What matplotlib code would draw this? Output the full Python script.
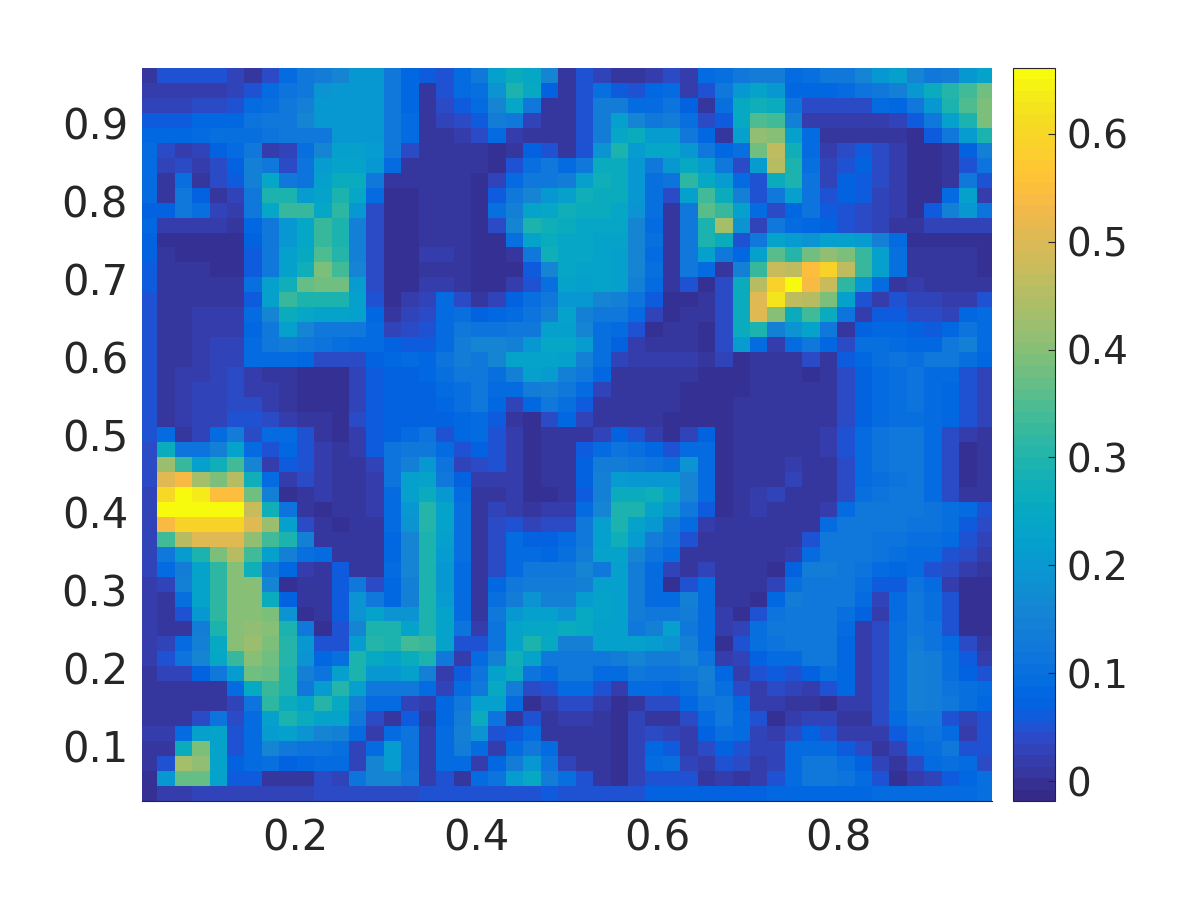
import numpy as np
import matplotlib
matplotlib.use('Agg')
import matplotlib.pyplot as plt
from matplotlib.colors import ListedColormap

# Heat values, in hundredths, top row first
heat_rows = [
    [1,5,5,5,5,3,1,4,9,12,14,16,20,20,13,8,6,5,9,12,22,26,24,16, 1,5,3,1,1,2,4,2,9,10,12,14,14,9,10,12,13,16,20,22,16,12,14,20,23],
    [2,2,2,2,2,3,5,9,11,13,19,20,20,20,13,8,1,5,9,10,19,30,25,7, 1,5,10,6,5,8,9,2,5,13,20,23,20,8,8,8,9,11,13,15,20,26,31,34,38],
    [3,3,3,4,4,5,9,10,13,15,20,20,20,20,13,8,1,4,6,9,16,24,13,1, 1,5,14,14,9,9,11,7,1,10,25,27,26,11,4,4,4,4,9,8,12,20,30,35,39],
    [6,6,6,8,8,8,11,12,13,16,20,20,20,20,13,9,1,3,4,6,14,13,3,1, 1,5,14,22,16,13,14,10,4,6,25,35,34,15,2,2,2,2,2,3,6,13,22,30,39],
    [8,8,8,9,10,10,10,11,12,13,13,20,20,20,13,9,1,1,2,4,9,2,1,1, 1,5,14,24,26,21,21,13,8,1,22,41,40,22,9,1,1,1,1,1,0,6,13,21,29],
    [9,4,2,3,7,9,13,2,3,10,16,22,22,21,13,4,1,1,1,1,0,1,7,5, 1,5,19,30,21,24,24,20,13,8,10,38,46,27,9,2,4,6,4,2,0,0,1,7,15],
    [9,3,4,2,4,7,15,12,4,11,21,23,23,20,9,1,1,1,1,1,0,5,10,12, 9,13,26,26,20,13,20,25,21,13,4,21,45,30,10,3,5,7,4,2,0,0,1,5,11],
    [9,1,10,1,4,6,15,24,13,11,22,26,26,13,1,1,1,1,1,0,3,9,13,13, 14,22,27,26,20,10,11,32,25,21,9,5,26,30,11,3,7,6,4,2,0,0,1,13,5],
    [9,1,13,7,1,3,13,29,29,21,23,30,24,9,0,0,1,1,1,0,6,12,16,20, 22,27,26,26,20,10,4,22,34,26,15,5,12,22,11,5,7,6,3,2,0,0,9,22,2],
    [7,7,12,10,3,2,12,24,33,33,24,32,20,4,0,0,1,1,1,0,10,15,23,24, 27,26,26,24,19,10,1,13,36,33,22,9,4,8,11,6,5,4,3,2,0,6,15,20,11],
    [8,2,2,2,2,1,8,13,20,24,33,30,15,4,0,0,1,1,1,0,4,16,29,27, 26,24,24,24,16,9,1,13,30,43,19,3,13,9,8,7,5,4,3,1,1,3,3,3,3],
    [7,0,0,0,0,0,7,13,20,24,33,30,15,4,0,0,1,1,1,0,0,10,23,26, 24,24,23,23,16,10,1,13,30,26,5,12,23,21,19,22,22,21,15,9,0,0,0,0,0],
    [7,1,0,0,0,0,6,13,22,25,35,31,15,4,0,0,2,2,1,0,0,1,12,27, 24,24,23,22,16,9,1,13,22,13,8,22,36,31,38,41,39,33,22,10,1,1,1,1,0],
    [6,1,1,1,0,0,6,13,22,27,39,34,16,4,0,0,1,1,1,0,0,0,6,16, 24,23,23,22,16,10,1,13,9,1,15,33,48,46,55,59,46,33,22,10,1,1,1,1,0],
    [6,1,1,1,1,1,10,22,27,37,38,38,21,4,0,0,2,2,1,0,0,2,5,10, 23,22,23,22,15,9,1,5,0,4,26,45,59,66,54,48,32,20,9,1,2,1,1,1,1],
    [5,1,1,1,1,1,6,22,33,30,29,29,22,5,0,2,3,9,4,1,3,7,10,13, 20,20,16,15,11,6,0,0,1,4,26,51,62,46,45,39,22,5,2,5,3,3,2,2,5],
    [5,1,1,2,2,2,9,16,26,24,23,23,22,8,1,3,4,9,10,7,8,9,11,15, 23,15,12,12,9,3,0,1,1,4,26,51,40,26,34,26,11,2,6,6,4,4,3,8,9],
    [5,1,1,2,2,2,8,12,22,16,13,12,13,9,3,4,5,9,12,11,11,12,13,22, 22,16,10,9,5,0,1,1,0,4,26,30,15,19,23,13,1,7,8,8,7,6,8,11,9],
    [5,1,1,2,3,3,9,13,14,12,11,10,9,9,7,6,6,9,14,16,16,15,20,24, 24,21,10,7,2,1,1,1,0,4,21,9,2,9,13,8,4,10,10,9,8,8,13,15,9],
    [5,1,1,2,3,3,9,9,9,8,4,4,4,7,8,9,8,11,14,13,16,23,23,23, 22,15,10,3,2,2,2,2,1,3,0,1,1,1,4,1,6,8,10,11,10,12,13,10,8],
    [5,1,2,2,3,4,2,1,1,0,0,0,3,6,7,7,8,10,12,13,10,15,22,21, 15,12,8,1,1,1,1,1,0,0,0,1,1,1,0,1,4,7,9,10,11,9,9,5,3],
    [5,1,2,3,3,4,2,2,1,0,0,0,3,6,7,7,7,9,10,13,9,9,14,15, 13,9,3,1,1,1,1,0,0,0,0,1,1,1,1,1,4,7,9,10,11,9,8,5,3],
    [5,1,2,3,3,4,4,2,1,0,0,0,3,6,7,7,7,8,10,12,8,3,8,12, 10,6,1,1,1,1,1,0,0,0,1,1,1,1,1,1,4,7,9,10,11,9,8,5,3],
    [5,1,2,3,3,5,5,4,2,1,1,0,4,6,7,7,7,7,8,9,6,1,0,4, 8,3,1,1,1,1,0,0,0,0,1,1,1,1,1,1,4,7,9,10,10,9,8,5,3],
    [5,9,1,3,9,14,4,9,9,5,1,0,2,6,7,9,11,5,8,9,5,2,0,1, 1,1,3,7,5,2,0,3,7,0,1,1,1,1,1,2,5,9,11,12,12,9,4,2,1],
    [4,26,11,11,15,23,9,5,8,5,2,1,2,6,11,12,13,9,5,7,5,2,0,1, 1,6,9,11,10,8,5,9,9,0,1,1,1,1,1,2,5,9,11,12,12,9,4,0,1],
    [4,42,33,22,27,34,16,2,6,5,2,1,1,3,11,15,20,11,3,4,5,2,0,1, 1,7,14,14,13,11,10,19,9,0,1,1,1,2,1,1,4,9,11,12,12,9,4,0,1],
    [4,51,54,43,39,45,27,9,2,4,2,1,1,2,11,22,23,13,7,2,2,2,0,1, 1,7,15,21,20,20,20,16,9,0,1,1,1,3,1,1,4,9,10,11,12,9,4,0,1],
    [3,60,66,63,55,55,38,15,0,1,2,1,1,2,9,22,26,20,9,1,1,2,0,0, 1,6,15,26,26,27,23,16,9,0,1,2,3,1,1,1,4,10,11,12,12,9,4,1,1],
    [3,66,66,66,66,66,48,27,11,1,0,1,1,2,9,20,31,23,10,1,3,2,1,2, 2,9,16,30,30,23,19,12,6,0,1,2,1,1,1,2,9,12,12,12,12,11,10,9,5],
    [3,54,59,59,59,59,51,42,22,4,1,0,1,1,9,19,31,23,10,1,4,5,3,4, 4,12,22,30,23,20,13,9,2,1,1,1,1,1,1,9,13,13,13,12,11,11,10,6,4],
    [3,34,45,51,51,51,41,34,30,15,1,1,1,1,8,16,30,22,10,1,4,9,7,7, 9,13,22,27,21,14,11,5,1,1,1,1,1,1,5,12,13,13,11,11,10,10,9,5,3],
    [3,13,21,29,39,45,34,22,15,10,9,1,1,1,8,16,30,21,10,1,4,9,9,8, 10,14,23,23,16,11,9,1,1,1,1,1,1,2,9,13,13,13,11,10,9,9,5,4,2],
    [3,9,14,23,32,40,27,12,8,2,1,6,1,1,9,16,30,20,9,1,4,9,12,12, 12,16,13,22,14,9,3,1,3,1,1,1,0,7,14,14,13,11,9,8,9,5,4,2,1],
    [2,3,15,23,32,40,40,16,0,1,1,6,12,4,8,15,29,20,9,1,8,12,14,14, 14,15,22,22,14,9,0,5,9,1,1,1,3,10,13,13,12,10,6,6,11,9,2,0,0],
    [2,1,10,23,32,40,40,26,7,1,1,6,19,13,8,15,30,21,9,1,10,14,19,15, 15,21,23,22,14,9,9,15,9,1,1,0,8,14,13,13,12,9,3,9,13,10,5,0,0],
    [2,1,5,20,32,40,40,39,19,0,1,6,19,23,19,19,30,23,9,1,12,20,22,22, 19,25,23,22,14,13,13,14,9,2,0,5,11,12,12,12,10,7,2,9,12,10,5,0,0],
    [2,1,1,14,29,40,41,40,30,12,0,5,16,30,30,23,30,23,11,2,11,23,24,24, 26,25,22,22,13,15,22,13,9,2,3,10,12,12,12,12,9,2,4,10,13,11,5,0,0],
    [2,3,9,15,25,40,42,39,31,20,5,5,21,31,30,34,33,23,5,5,11,23,30,25, 15,15,22,22,22,21,19,15,9,0,5,10,11,12,13,12,8,2,4,10,14,11,9,4,1],
    [2,5,11,16,24,33,40,38,31,19,8,10,30,25,23,26,29,12,2,9,15,27,23,13, 13,13,12,14,16,14,14,16,11,2,3,7,9,9,13,13,8,2,4,10,15,14,10,6,2],
    [1,3,3,7,12,21,38,37,30,15,11,22,29,20,20,22,15,2,6,11,22,26,11,9, 12,12,9,9,13,11,11,12,15,8,2,5,6,5,7,10,8,2,4,10,15,14,10,7,5],
    [1,1,1,1,1,9,25,33,30,13,21,31,22,13,13,13,9,3,9,13,25,14,4,5, 9,9,5,2,9,9,8,10,14,10,4,2,4,3,2,5,8,2,4,10,15,14,11,10,9],
    [1,1,1,1,1,3,11,32,26,23,31,25,15,9,9,3,2,8,13,22,22,9,0,2, 4,4,2,0,1,4,4,8,11,13,8,2,2,1,1,0,2,2,4,10,15,14,12,10,8],
    [1,1,1,4,11,4,9,22,30,26,23,23,13,4,1,6,1,8,14,26,11,1,5,1, 2,2,1,0,3,1,1,4,9,12,9,5,0,2,3,3,1,1,4,9,13,13,5,3,5],
    [2,2,9,22,23,5,9,21,22,19,16,15,9,2,9,11,2,9,15,19,5,6,9,1, 1,1,1,0,3,4,3,2,7,10,9,3,2,4,7,5,2,2,2,6,10,11,9,2,5],
    [1,1,26,39,23,5,9,16,12,11,11,10,3,9,21,11,2,9,14,9,2,9,13,9, 1,1,1,0,3,8,6,2,4,7,5,3,3,9,9,9,6,4,1,3,9,10,12,5,5],
    [1,5,43,41,23,7,9,10,7,8,9,9,3,16,21,11,2,9,9,2,8,14,20,11, 3,1,1,0,3,9,10,3,2,5,4,2,3,9,12,12,10,7,3,1,4,9,10,9,4],
    [0,20,37,37,23,6,6,1,1,1,4,3,11,16,16,13,2,5,1,9,11,21,25,14, 10,5,1,0,3,5,5,5,1,2,1,2,5,9,13,13,11,9,5,0,2,3,6,8,10],
    [0,2,2,3,3,3,3,3,3,3,4,4,4,4,4,4,5,5,5,5,5,5,5,6, 5,5,5,5,5,7,7,7,7,7,7,7,8,8,8,8,8,8,9,9,9,9,9,9,10],
]

x_ticks = [0.2, 0.4, 0.6, 0.8]
y_ticks = [0.1, 0.2, 0.3, 0.4, 0.5, 0.6, 0.7, 0.8, 0.9]
bar_ticks = [0, 0.1, 0.2, 0.3, 0.4, 0.5, 0.6]

# 64 step parula, same table as MATLAB
parula = ListedColormap([
    (0.2081,0.1663,0.5292),(0.2116,0.1898,0.5777),(0.2123,0.2138,0.6270),(0.2081,0.2386,0.6771),
    (0.1959,0.2645,0.7279),(0.1707,0.2919,0.7792),(0.1253,0.3242,0.8303),(0.0591,0.3598,0.8683),
    (0.0117,0.3875,0.8820),(0.0060,0.4086,0.8828),(0.0165,0.4266,0.8786),(0.0329,0.4430,0.8720),
    (0.0498,0.4586,0.8641),(0.0629,0.4737,0.8554),(0.0723,0.4887,0.8467),(0.0779,0.5040,0.8384),
    (0.0793,0.5200,0.8312),(0.0749,0.5375,0.8263),(0.0641,0.5570,0.8240),(0.0488,0.5772,0.8228),
    (0.0343,0.5966,0.8199),(0.0265,0.6137,0.8135),(0.0239,0.6287,0.8038),(0.0231,0.6418,0.7913),
    (0.0228,0.6535,0.7768),(0.0267,0.6642,0.7607),(0.0384,0.6743,0.7436),(0.0590,0.6838,0.7254),
    (0.0843,0.6928,0.7062),(0.1133,0.7015,0.6859),(0.1453,0.7098,0.6646),(0.1801,0.7177,0.6424),
    (0.2178,0.7250,0.6193),(0.2586,0.7317,0.5954),(0.3022,0.7376,0.5712),(0.3482,0.7424,0.5473),
    (0.3953,0.7459,0.5244),(0.4420,0.7481,0.5033),(0.4871,0.7491,0.4840),(0.5300,0.7491,0.4661),
    (0.5709,0.7485,0.4494),(0.6099,0.7473,0.4337),(0.6473,0.7456,0.4188),(0.6834,0.7435,0.4044),
    (0.7184,0.7411,0.3905),(0.7525,0.7384,0.3768),(0.7858,0.7356,0.3633),(0.8185,0.7327,0.3498),
    (0.8507,0.7299,0.3360),(0.8824,0.7274,0.3217),(0.9139,0.7258,0.3063),(0.9450,0.7261,0.2886),
    (0.9739,0.7314,0.2666),(0.9938,0.7455,0.2403),(0.9990,0.7653,0.2164),(0.9955,0.7861,0.1967),
    (0.9880,0.8066,0.1794),(0.9789,0.8271,0.1633),(0.9697,0.8481,0.1475),(0.9626,0.8705,0.1309),
    (0.9589,0.8949,0.1132),(0.9598,0.9218,0.0948),(0.9661,0.9514,0.0755),(0.9763,0.9831,0.0538),
])

heat = np.array(heat_rows) / 100.0
text_color = '#262626'

fig = plt.figure(figsize=(12, 9), dpi=100)
ax = fig.add_axes([142 / 1200, 1 - 801 / 900, 850 / 1200, 733 / 900])

# first and last columns are cut a bit by the axes limits
im = ax.imshow(heat, extent=[0.0277, 0.9723, 0.03, 0.97], origin='upper', aspect='auto',
               cmap=parula, vmin=-0.0185, vmax=0.661, interpolation='nearest')
ax.set_xlim(0.03, 0.97)
ax.set_ylim(0.03, 0.97)
ax.set_xticks(x_ticks)
ax.set_yticks(y_ticks)
ax.set_xticklabels([f'{t:g}' for t in x_ticks])
ax.set_yticklabels([f'{t:g}' for t in y_ticks])
ax.tick_params(length=0, labelsize=30, labelcolor=text_color)
ax.tick_params(axis='x', pad=12)
ax.tick_params(axis='y', pad=10)
for side in ['top', 'right', 'left']:
    ax.spines[side].set_visible(False)
ax.spines['bottom'].set_color(text_color)
ax.spines['bottom'].set_linewidth(0.8)

cax = fig.add_axes([1013 / 1200, 1 - 801 / 900, 42 / 1200, 733 / 900])
cbar = fig.colorbar(im, cax=cax)
cbar.set_ticks(bar_ticks)
cbar.set_ticklabels([f'{t:g}' for t in bar_ticks])
cbar.ax.tick_params(direction='in', length=5, width=0.8, color=text_color, labelsize=28,
                    labelcolor=text_color, pad=8)
cbar.outline.set_edgecolor(text_color)
cbar.outline.set_linewidth(0.8)

fig.savefig('out.png', dpi=100)
